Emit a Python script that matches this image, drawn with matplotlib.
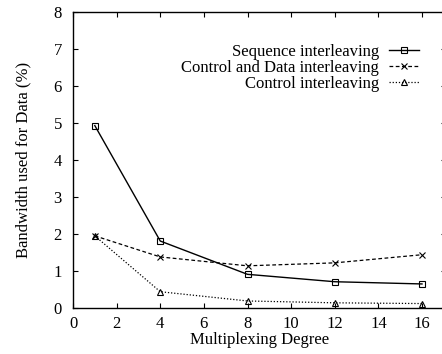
import matplotlib
matplotlib.use("Agg")
import matplotlib.pyplot as plt

plt.rcParams['font.family'] = ['Liberation Serif', 'DejaVu Serif']

degree = [1, 4, 8, 12, 16]
seq_interleaving = [4.93, 1.81, 0.91, 0.71, 0.65]
ctrl_data_interleaving = [1.95, 1.38, 1.14, 1.22, 1.44]
ctrl_interleaving = [1.95, 0.44, 0.19, 0.14, 0.12]
labels = ["Sequence interleaving", "Control and Data interleaving", "Control interleaving"]
xticks = [0, 2, 4, 6, 8, 10, 12, 14, 16]
yticks = [0, 1, 2, 3, 4, 5, 6, 7, 8]

fig = plt.figure(figsize=(4.42, 3.54), dpi=100)
W, H = 442, 354
left, right, top, bottom = 73, 446, 12, 308
ax = fig.add_axes([left / W, 1 - bottom / H, (right - left) / W, (bottom - top) / H])

ax.plot(degree, seq_interleaving, color='black', lw=1.0, ls='-', marker='s',
        ms=4.5, mfc='none', mew=0.8, label=labels[0])
ax.plot(degree, ctrl_data_interleaving, color='black', lw=0.9, ls=(0, (3, 2)), marker='x',
        ms=4.5, mew=0.8, label=labels[1])
ax.plot(degree, ctrl_interleaving, color='black', lw=0.9, ls=(0, (1, 1.5)), marker='^',
        ms=4.5, mfc='none', mew=0.8, label=labels[2])

ax.set_xlim(0, 17.1)
ax.set_ylim(0, 8)
ax.set_xticks(xticks)
ax.set_yticks(yticks)
ax.tick_params(direction='in', top=True, right=True, length=3.5, width=0.8,
               labelsize=12)
ax.tick_params(axis='x', pad=6)
ax.tick_params(axis='y', pad=8)
for s in ax.spines.values():
    s.set_linewidth(1.0)

ax.set_xlabel("Multiplexing Degree", fontsize=12, labelpad=0)
ax.set_ylabel("Bandwidth used for Data (%)", fontsize=12, labelpad=16)

leg = ax.legend(loc='upper right', bbox_to_anchor=(0.946, 0.915), frameon=False,
                markerfirst=False, numpoints=1, fontsize=12, handlelength=1.8,
                handletextpad=0.6, labelspacing=0.0, borderaxespad=0)

fig.savefig("out.png", dpi=100)
